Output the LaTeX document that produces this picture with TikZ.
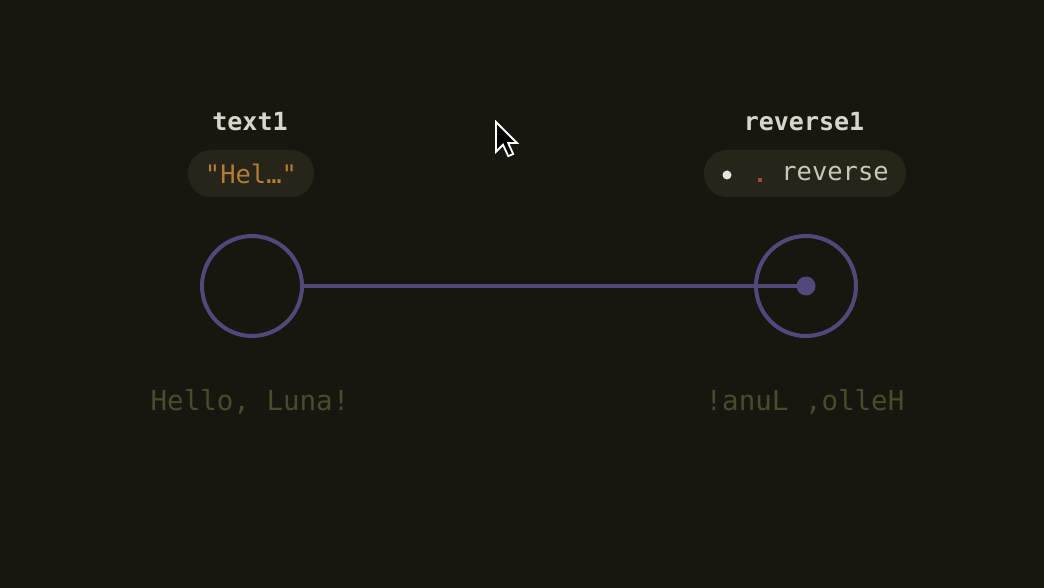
\documentclass[tikz,border=0pt]{standalone}
\usepackage{fontspec}
\setmonofont{DejaVu Sans Mono}
\definecolor{bg}{HTML}{17170F}
\definecolor{wire}{HTML}{54477C}
\definecolor{outtxt}{HTML}{4A4A2C}
\definecolor{lbl}{HTML}{D6D6CA}
\definecolor{pill}{HTML}{27241A}
\definecolor{strval}{HTML}{B07D35}
\definecolor{opdot}{HTML}{A04A3A}
\definecolor{optxt}{HTML}{C8C8B8}
\tikzset{
  nodelabel/.style={font=\ttfamily\bfseries\fontsize{25}{30}\selectfont, text=lbl, inner sep=0pt},
  pilltext/.style={font=\ttfamily\fontsize{25.5}{30}\selectfont, inner sep=0pt},
  outlabel/.style={font=\ttfamily\fontsize{27.5}{32}\selectfont, text=outtxt, inner sep=0pt},
  ring/.style={circle, draw=wire, line width=4pt, minimum size=100pt, inner sep=0pt},
}
\begin{document}
\begin{tikzpicture}[x=1pt,y=-1pt]
\useasboundingbox (0,0) rectangle (1044,588);
\fill[bg] (0,0) rectangle (1044,588);
% labels
\node[nodelabel] (l1) at (250,122) {text1};
\node[nodelabel] (l2) at (804,122) {reverse1};
% pills
\fill[pill, rounded corners=23pt] (188,150) rectangle (314,197);
\node[pilltext, text=strval] (p1) at (251,173.5) {"Hel…"};
\fill[pill, rounded corners=23pt] (704,150) rectangle (906,197);
\fill[white!88!bg] (727,175) circle (4.5pt);
\fill[opdot] (758,178) rectangle (762,182);
\node[pilltext, text=optxt, anchor=east] (p2) at (889,174) {reverse};
% circles
\node[ring] (c1) at (252,286) {};
\node[ring] (c2) at (806,286) {};
\coordinate (tip) at (806,286);
\draw[wire, line width=3.5pt] (c1.east) -- (tip);
\fill[wire] (tip) circle (9.5pt);
% outputs
\node[outlabel] (o1) at (250,402) {Hello, Luna!};
\node[outlabel] (o2) at (805,402) {!anuL ,olleH};
% cursor
\begin{scope}[shift={(496,122)}, scale=1.75]
\draw[white, fill=black, line width=1.8pt, line join=miter] (0,0) -- (0,17) -- (4,13) -- (7,19.5) -- (9.8,18.3) -- (7,12) -- (12,12) -- cycle;
\end{scope}
\end{tikzpicture}
\end{document}
